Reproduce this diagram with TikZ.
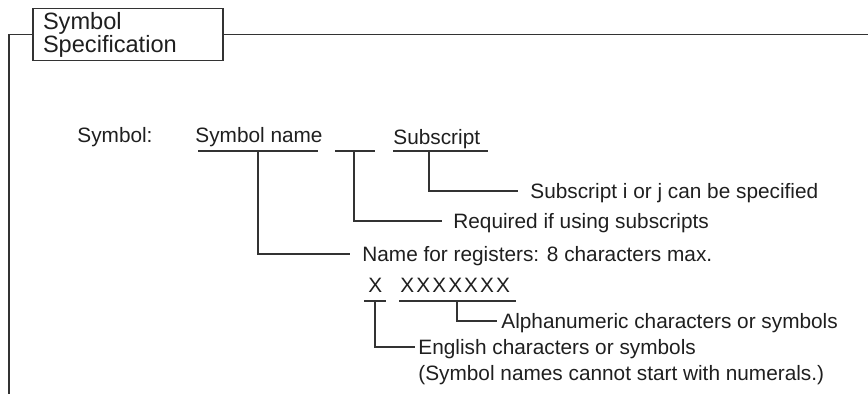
\documentclass[tikz,border=0pt]{standalone}
\usepackage{fontspec}
\setmainfont{Liberation Sans}
\usetikzlibrary{positioning}
\tikzset{
  txt/.style={inner sep=0pt, anchor=base west, font=\fontsize{10.4}{13}\selectfont, text=black!88},
  note/.style={txt, anchor=west, text height=7.45pt, text depth=0pt},
  uline/.style={line width=0.65pt, draw=black!80},
  lead/.style={line width=0.6pt, draw=black!80},
  titlebox/.style={draw=black!80, line width=0.65pt, minimum width=95pt, minimum height=26pt,
    inner sep=0pt, align=left, text width=85pt, font=\fontsize{11.8}{11.5}\selectfont, text=black!88},
}

\begin{document}
\begin{tikzpicture}[x=0.5pt, y=-0.5pt]
  \useasboundingbox (0,0) rectangle (868,394);
  % frame with its title tab
  \node[titlebox] (title) at (128,34.5) {Symbol\\Specification};
  \coordinate (frameBL) at (9,394);
  \coordinate (frameTR) at (868,34.5);
  \draw[uline] (title.west) -- (title.west -| frameBL) -- (frameBL);
  \draw[uline] (title.east) -- (frameTR);
  % symbol layout row
  \node[txt] (symlbl) at (77,143) {Symbol:};
  \node[txt] (symname) at (195,143) {Symbol name};
  \node[txt] (subs) at (393,145) {Subscript};
  \foreach \a/\b in {198/318, 335/375, 393/488}
    \draw[uline] (\a,151) -- (\b,151);
  \coordinate (tapName) at (258,151);
  \coordinate (tapPar) at (354,151);
  \coordinate (tapSub) at (429,151);
  \node[note] (subnote) at (530,191) {Subscript i or j can be specified};
  \node[note] (parnote) at (453,221) {Required if using subscripts};
  \node[note] (regnote) at (362,254) {Name for registers: 8 characters max.};
  \draw[lead] (tapSub) |- ([xshift=-6pt]subnote.west);
  \draw[lead] (tapPar) |- ([xshift=-5.5pt]parnote.west);
  \draw[lead] (tapName) |- ([xshift=-6pt]regnote.west);
  % name characters
  \node[txt] (firstch) at (368,293) {X};
  \node[txt, font={\fontsize{10.4}{13}\selectfont\addfontfeature{LetterSpace=10}}] (restch) at (400,293) {XXXXXXX};
  \foreach \a/\b in {364/386, 399/516}
    \draw[uline] (\a,301) -- (\b,301);
  \coordinate (tapFirst) at (375,301);
  \coordinate (tapRest) at (457,301);
  \node[note] (alnote) at (501,321) {Alphanumeric characters or symbols};
  \node[note] (ennote) at (418,347) {English characters or symbols};
  \node[note] (numnote) at (418,373) {(Symbol names cannot start with numerals.)};
  \draw[lead] (tapRest) |- ([xshift=-2pt]alnote.west);
  \draw[lead] (tapFirst) |- ([xshift=-1.5pt]ennote.west);
\end{tikzpicture}
\end{document}
